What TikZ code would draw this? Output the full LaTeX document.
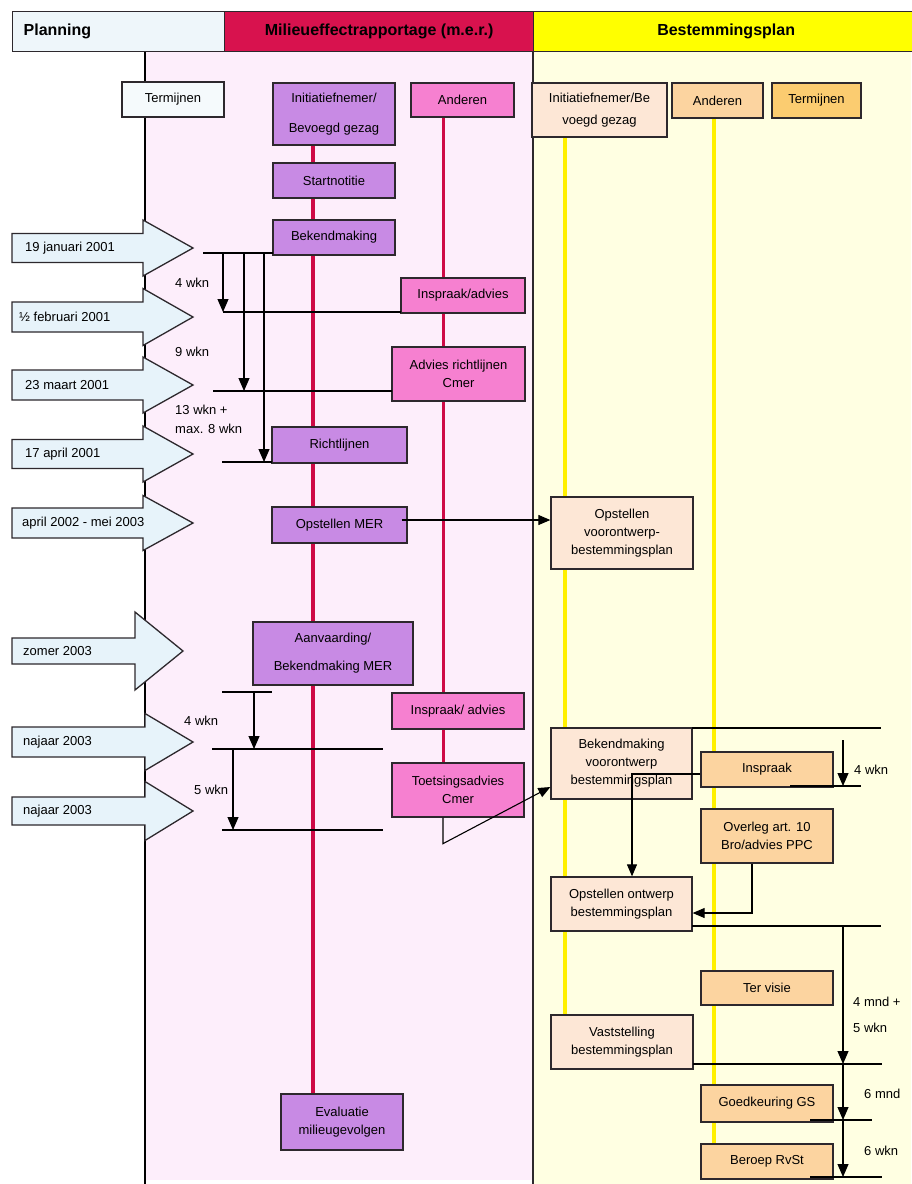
\documentclass[tikz,border=0pt]{standalone}
\usepackage{fontspec}
\setmainfont{Liberation Sans}
\usetikzlibrary{arrows.meta}
\definecolor{planblue}{RGB}{238,246,250}
\definecolor{hdrred}{RGB}{216,18,78}
\definecolor{hdryel}{RGB}{255,255,0}
\definecolor{pinkbg}{RGB}{253,238,251}
\definecolor{yelbg}{RGB}{255,255,226}
\definecolor{purp}{RGB}{200,138,228}
\definecolor{pinkb}{RGB}{246,128,208}
\definecolor{redln}{RGB}{206,10,70}
\definecolor{yelln}{RGB}{255,240,0}
\definecolor{peach}{RGB}{253,231,214}
\definecolor{peachb}{RGB}{252,212,160}
\definecolor{orng}{RGB}{251,204,112}
\definecolor{arrowbl}{RGB}{231,243,250}
\definecolor{edge}{RGB}{45,40,45}
\pgfdeclarelayer{back}
\pgfdeclarelayer{mid}
\pgfsetlayers{back,mid,main}
\begin{document}
\begin{tikzpicture}[x=1pt,y=-1pt,
  box/.style={draw=edge, line width=1.3pt, inner sep=0pt, align=center, font=\fontsize{13}{18}\selectfont},
  pbox/.style={box, fill=purp},
  kbox/.style={box, fill=pinkb},
  abox/.style={box, fill=peach},
  bbox/.style={box, fill=peachb},
  lbl/.style={inner sep=0pt, anchor=west, font=\fontsize{13}{19}\selectfont, align=left},
  hdr/.style={draw=edge, line width=1.3pt, anchor=north west, minimum height=40pt, inner sep=0pt, font=\fontsize{16}{18}\selectfont\bfseries},
  tl/.style={line width=1.1pt, black},
  tla/.style={tl, -{Triangle[width=11pt,length=13pt]}},
  conn/.style={line width=1.1pt, black, -{Triangle[width=10pt,length=12pt]}},
  datearrow/.style={draw=edge, line width=1.3pt, fill=arrowbl, line join=miter},
  redline/.style={redln, line width=3.5pt},
  yelline/.style={yelln, line width=3.5pt}
]
\useasboundingbox (0,0) rectangle (911,1184);
\begin{pgfonlayer}{back}
\fill[white] (0,0) rectangle (911,1184);
\fill[pinkbg] (145,51) rectangle (533,1180);
\fill[yelbg] (533,51) rectangle (911,1184);
\draw[line width=1.5pt, black] (145,51) -- (145,1184);
\draw[line width=1.5pt, edge] (533,51) -- (533,1184);
\end{pgfonlayer}

% header
\node[hdr, fill=planblue, minimum width=212pt, text width=190pt, align=left, inner xsep=11pt] (hplan) at (12,11) {Planning};
\node[hdr, fill=hdrred, minimum width=309pt] (hmer) at (224,11) {Milieueffectrapportage (m.e.r.)};
\node[hdr, fill=hdryel, minimum width=385pt] (hbp) at (533,11) {Bestemmingsplan};

% column heads
\node[box, fill=white!40!planblue, minimum width=102pt, minimum height=35pt] (term1) at (173,99.5) {Termijnen};
\node[pbox, minimum width=122pt, minimum height=62pt, font=\fontsize{13}{30}\selectfont] (init1) at (334,114) {Initiatiefnemer/\\Bevoegd gezag};
\node[kbox, minimum width=103pt, minimum height=34pt] (and1) at (462.5,100) {Anderen};
\node[abox, minimum width=135pt, minimum height=54pt, font=\fontsize{13}{22}\selectfont] (init2) at (599.5,110) {Initiatiefnemer/Be\\voegd gezag};
\node[bbox, minimum width=91pt, minimum height=35pt] (and2) at (717.5,100.5) {Anderen};
\node[box, fill=orng, minimum width=89pt, minimum height=35pt] (term2) at (816.5,100.5) {Termijnen};

% m.e.r. boxes
\node[pbox, minimum width=122pt, minimum height=35pt] (start) at (334,180.5) {Startnotitie};
\node[pbox, minimum width=122pt, minimum height=35pt] (bekend) at (334,237.5) {Bekendmaking};
\node[pbox, minimum width=135pt, minimum height=36pt] (richtl) at (339.5,445) {Richtlijnen};
\node[pbox, minimum width=135pt, minimum height=36pt] (opmer) at (339.5,525) {Opstellen MER};
\node[pbox, minimum width=160pt, minimum height=63pt, font=\fontsize{13}{28}\selectfont] (aanv) at (333,653.5) {Aanvaarding/\\Bekendmaking MER};
\node[pbox, minimum width=122pt, minimum height=56pt] (eval) at (342,1122) {Evaluatie\\milieugevolgen};

\node[kbox, minimum width=124pt, minimum height=35pt] (insp1) at (463,295.5) {Inspraak/advies};
\node[kbox, minimum width=133pt, minimum height=54pt] (advr) at (458.5,374) {Advies richtlijnen\\Cmer};
\node[kbox, minimum width=132pt, minimum height=36pt] (insp2) at (458,711) {Inspraak/ advies};
\node[kbox, minimum width=132pt, minimum height=54pt] (toets) at (458,790) {Toetsingsadvies\\Cmer};

% bestemmingsplan boxes
\node[abox, minimum width=142pt, minimum height=72pt] (opvo) at (622,533) {Opstellen\\voorontwerp-\\bestemmingsplan};
\node[abox, minimum width=141pt, minimum height=71pt] (bekvo) at (621.5,763.5) {Bekendmaking\\voorontwerp\\bestemmingsplan};
\node[abox, minimum width=141pt, minimum height=54pt] (opon) at (621.5,904) {Opstellen ontwerp\\bestemmingsplan};
\node[abox, minimum width=142pt, minimum height=54pt] (vast) at (622,1042) {Vaststelling\\bestemmingsplan};

\node[bbox, minimum width=132pt, minimum height=35pt] (insp3) at (767,769.5) {Inspraak};
\node[bbox, minimum width=132pt, minimum height=54pt] (overl) at (767,836) {Overleg art. 10\\Bro/advies PPC};
\node[bbox, minimum width=132pt, minimum height=34pt] (tervis) at (767,988) {Ter visie};
\node[bbox, minimum width=132pt, minimum height=37pt] (goed) at (767,1103.5) {Goedkeuring GS};
\node[bbox, minimum width=132pt, minimum height=35pt] (beroep) at (767,1161.5) {Beroep RvSt};

% lifelines
\begin{pgfonlayer}{mid}
\draw[redline] ([xshift=-21pt]init1.south) -- ([xshift=-29pt]eval.north);
\draw[redline] ([xshift=-19pt]and1.south) -- ([xshift=-14.5pt]toets.north);
\draw[yelline] ([xshift=-34.5pt]init2.south) -- ([xshift=-57pt]vast.north);
\draw[yelline] ([xshift=-3.5pt]and2.south) -- ([xshift=-53pt]beroep.north);
\end{pgfonlayer}

% timeline coordinates (left)
\coordinate (a0) at (203,253); \coordinate (a0e) at (273,253);
\coordinate (b1) at (223,253); \coordinate (b2) at (244,253); \coordinate (b3) at (264,253);
\coordinate (c1) at (223,312); \coordinate (c1e) at (401,312);
\coordinate (c2s) at (213,391); \coordinate (c2) at (244,391); \coordinate (c2e) at (392,391);
\coordinate (c3s) at (222,462); \coordinate (c3) at (264,462); \coordinate (c3e) at (272,462);
\draw[tl] (a0) -- (a0e);
\draw[tla] (b1) -- (c1);
\draw[tla] (b2) -- (c2);
\draw[tla] (b3) -- (c3);
\draw[tl] (c1) -- (c1e);
\draw[tl] (c2s) -- (c2e);
\draw[tl] (c3s) -- (c3e);

\coordinate (d0s) at (222,692); \coordinate (d0) at (254,692); \coordinate (d0e) at (272,692);
\coordinate (d1s) at (212,749); \coordinate (d1) at (254,749); \coordinate (d1b) at (233,749); \coordinate (d1e) at (383,749);
\coordinate (d2s) at (222,830); \coordinate (d2) at (233,830); \coordinate (d2e) at (383,830);
\draw[tl] (d0s) -- (d0e);
\draw[tla] (d0) -- (d1);
\draw[tl] (d1s) -- (d1e);
\draw[tla] (d1b) -- (d2);
\draw[tl] (d2s) -- (d2e);

% timeline right
\coordinate (r0s) at (692,728); \coordinate (r0e) at (881,728);
\coordinate (r1a) at (843,740); \coordinate (r1b) at (843,786);
\coordinate (r1s) at (790,786); \coordinate (r1e) at (861,786);
\coordinate (r2s) at (692,926); \coordinate (r2) at (843,926); \coordinate (r2e) at (881,926);
\coordinate (r3s) at (693,1064); \coordinate (r3) at (843,1064); \coordinate (r3e) at (882,1064);
\coordinate (r4s) at (810,1120); \coordinate (r4) at (843,1120); \coordinate (r4e) at (872,1120);
\coordinate (r5s) at (810,1177); \coordinate (r5) at (843,1177); \coordinate (r5e) at (882,1177);
\draw[tl] (r0s) -- (r0e);
\draw[tla] (r1a) -- (r1b);
\draw[tl] (r1s) -- (r1e);
\draw[tl] (r2s) -- (r2e);
\draw[tla] (r2) -- (r3);
\draw[tl] (r3s) -- (r3e);
\draw[tla] (r3) -- (r4);
\draw[tl] (r4s) -- (r4e);
\draw[tla] (r4) -- (r5);
\draw[tl] (r5s) -- (r5e);

% connectors
\draw[conn] ([xshift=-6pt,yshift=5pt]opmer.east) -- ([yshift=13pt]opvo.west);
\draw[conn] ([xshift=-15pt]toets.south) -- ++(0,26) -- ([yshift=-23.5pt]bekvo.west);
\draw[conn] ([yshift=-4.5pt]insp3.west) -| ([xshift=10.5pt]opon.north);
\draw[conn] ([xshift=-15pt]overl.south) |- ([yshift=-9pt]opon.east);

% duration labels
\node[lbl] (w1) at (175,283) {4 wkn};
\node[lbl] (w2) at (175,352) {9 wkn};
\node[lbl, font=\fontsize{13}{19}\selectfont] (w3) at (175,419) {13 wkn +\\max. 8 wkn};
\node[lbl] (w4) at (184,721) {4 wkn};
\node[lbl] (w5) at (194,790) {5 wkn};
\node[lbl] (w6) at (854,770) {4 wkn};
\node[lbl, font=\fontsize{13}{26}\selectfont] (w7) at (853,1015) {4 mnd +\\5 wkn};
\node[lbl] (w8) at (864,1094) {6 mnd};
\node[lbl] (w9) at (864,1151) {6 wkn};

% date arrows
\foreach \cy/\sh/\hh/\bx/\tx/\lx/\lab [count=\i] in {
  248/14.5/28/143/193/25/{19 januari 2001},
  317/15/28.5/143/193/19/{½ februari 2001},
  385/15/28/143/193/25/{23 maart 2001},
  454/14.5/28/143/193/25/{17 april 2001},
  523/15/27.5/143/193/22/{april 2002 - mei 2003},
  651/13/39/135/183/23/{zomer 2003},
  742/15/28.5/145/193/23/{najaar 2003},
  811/14/29.5/145/193/23/{najaar 2003}} {
  \draw[datearrow] (12,{\cy-\sh}) -- (\bx,{\cy-\sh}) -- (\bx,{\cy-\hh}) -- (\tx,\cy) -- (\bx,{\cy+\hh}) -- (\bx,{\cy+\sh}) -- (12,{\cy+\sh}) -- cycle;
  \node[lbl] (date\i) at (\lx,\cy) {\lab};
}
\end{tikzpicture}
\end{document}
